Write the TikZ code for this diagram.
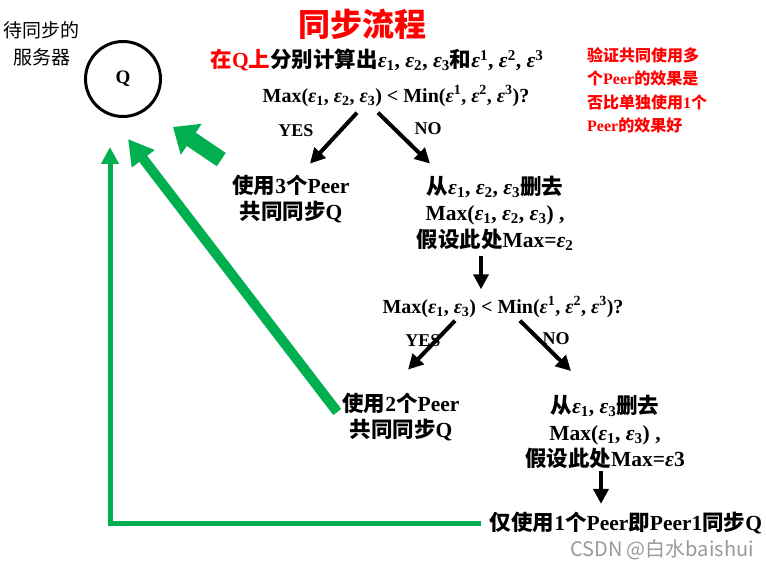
\documentclass[tikz,border=0pt]{standalone}
\usepackage{fontspec}
\setmainfont{Liberation Serif}
\newfontfamily\cjk{Noto Sans CJK SC}
\usetikzlibrary{arrows.meta,calc}
\definecolor{pgreen}{HTML}{00B050}
\newcommand{\zh}[1]{{\cjk #1}}
\newcommand{\eps}[1]{{\itshape ε}\textsubscript{#1}}
\newcommand{\epsu}[1]{{\itshape ε}\textsuperscript{#1}}

\begin{document}
\begin{tikzpicture}[x=1pt,y=-1pt,>=Latex]
    \tikzset{
      txt/.style={inner sep=0pt, align=center, font=\fontsize{21.5}{26.5}\selectfont\bfseries},
      ques/.style={inner sep=0pt, font=\fontsize{20}{22}\selectfont\bfseries},
      yn/.style={inner sep=0pt, font=\fontsize{18}{20}\selectfont\bfseries},
      karrow/.style={-{Triangle[width=15pt,length=15pt]}, line width=4pt},
      garrow/.style={-{Triangle[width=17pt,length=17pt]}, line width=5pt, pgreen}
    }
    \useasboundingbox (0,0) rectangle (766,569);
    % server and headings
    \node[txt, font=\fontsize{19}{27}\selectfont] (title) at (42,44) {\zh{待同步的}\\\zh{服务器}};
    \node[circle, draw, line width=3pt, minimum size=75pt, inner sep=0pt,
      font=\fontsize{19}{26}\selectfont\bfseries] (server) at (123,79) {Q};
    \node[inner sep=0pt, text=red, font=\fontsize{32}{36}\selectfont\bfseries] (head) at (362,24) {\zh{同步流程}};
    \node[txt] (calc) at (377,60) {\textcolor{red}{\zh{在}Q\zh{上}}\zh{分别计算出}\eps{1}, \eps{2}, \eps{3}\zh{和}\epsu{1}, \epsu{2}, \epsu{3}};
    \node[inner sep=0pt, anchor=north west, align=left, text=red,
      font=\fontsize{16}{23.5}\selectfont\bfseries] (note) at (587,47)
      {\zh{验证共同使用多}\\\zh{个}Peer\zh{的效果是}\\\zh{否比单独使用}1\zh{个}\\Peer\zh{的效果好}};
    % first test
    \node[ques] (q1) at (396,96) {Max(\eps{1}, \eps{2}, \eps{3}) < Min(\epsu{1}, \epsu{2}, \epsu{3})?};
    \node[yn] (yes1) at (296,131) {YES};
    \node[yn] (no1) at (428,129) {NO};
    \node[txt] (a1) at (291,199) {\zh{使用}3\zh{个}Peer\\\zh{共同同步}Q};
    \node[txt] (b1) at (495,213) {\zh{从}\eps{1}, \eps{2}, \eps{3}\zh{删去}\\Max(\eps{1}, \eps{2}, \eps{3}) ,\\\zh{假设此处}Max=\eps{2}};
    % second test
    \node[ques] (q2) at (503,307) {Max(\eps{1}, \eps{3}) < Min(\epsu{1}, \epsu{2}, \epsu{3})?};
    \node[yn] (yes2) at (423,341) {YES};
    \node[yn] (no2) at (556,339) {NO};
    \node[txt] (a2) at (401,417) {\zh{使用}2\zh{个}Peer\\\zh{共同同步}Q};
    \node[txt] (b2) at (605,432) {\zh{从}\eps{1}, \eps{3}\zh{删去}\\Max(\eps{1}, \eps{3}) ,\\\zh{假设此处}Max={\itshape ε}3};
    \node[txt] (last) at (626,523) {\zh{仅使用}1\zh{个}Peer\zh{即}Peer1\zh{同步}Q};
    \node[inner sep=0pt, text=black!40, font=\fontsize{20}{22}\selectfont\cjk] (mark) at (662,550) {CSDN @白水baishui};
    % black arrows
    \draw[karrow] ([xshift=-39pt,yshift=-6pt]q1.south) -- ([xshift=19pt,yshift=11pt]a1.north);
    \draw[karrow] ([xshift=-18pt,yshift=-6pt]q1.south) -- ([xshift=-65pt,yshift=12pt]b1.north);
    \draw[karrow] ([xshift=-14pt,yshift=-6pt]b1.south) -- ([xshift=-22pt,yshift=7pt]q2.north);
    \draw[karrow] ([xshift=-48pt,yshift=-3pt]q2.south) -- ([xshift=7pt,yshift=23pt]a2.north);
    \draw[karrow] ([xshift=17pt,yshift=-3pt]q2.south) -- ([xshift=-34pt,yshift=24pt]b2.north);
    \draw[karrow] ([xshift=-4pt,yshift=-2pt]b2.south) -- ([xshift=-25pt,yshift=8pt]last.north);
    % green arrows back to the server
    \draw[garrow] ([xshift=-9pt]last.west) -| ([xshift=-13pt,yshift=-29pt]server.south);
    \draw[garrow, line width=10pt, -{Triangle[width=27pt,length=25pt]}]
      ([xshift=-5pt,yshift=5pt]a2.west) -- ([xshift=5pt,yshift=-21pt]server.south);
    \draw[garrow, line width=16pt, -{Triangle[width=36pt,length=22pt]}]
      ([shift={(-11pt,15pt)}]a1.north west) -- ([shift={(50pt,-48pt)}]server.center);
  \end{tikzpicture}
\end{document}
